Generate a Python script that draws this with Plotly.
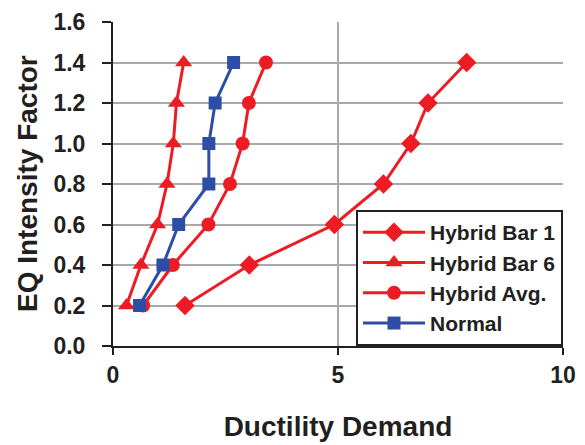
import plotly.graph_objects as go

intensity = [0.2, 0.4, 0.6, 0.8, 1.0, 1.2, 1.4]
hybrid_bar1 = [1.60, 3.03, 4.92, 6.01, 6.62, 7.00, 7.86]
hybrid_bar6 = [0.30, 0.62, 0.99, 1.20, 1.34, 1.41, 1.57]
hybrid_avg = [0.67, 1.33, 2.12, 2.60, 2.88, 3.02, 3.40]
normal = [0.59, 1.11, 1.46, 2.13, 2.13, 2.27, 2.68]

x_ticks = [0, 5, 10]
y_ticks = [0.0, 0.2, 0.4, 0.6, 0.8, 1.0, 1.2, 1.4, 1.6]

RED = "#ED1C24"
BLUE = "#2E4DA7"
INK = "#231F20"
FONT = "Liberation Sans"

series = [
    ("Hybrid Bar 1", hybrid_bar1, RED, "diamond", 15),
    ("Hybrid Bar 6", hybrid_bar6, RED, "triangle-up", 15),
    ("Hybrid Avg.", hybrid_avg, RED, "circle", 14),
    ("Normal", normal, BLUE, "square", 13),
]

fig = go.Figure()
for name, xs, color, sym, size in series:
    fig.add_trace(go.Scatter(
        x=xs, y=intensity, name=name, mode="lines+markers",
        line=dict(color=color, width=3),
        marker=dict(symbol=sym, size=size, color=color),
    ))

fig.add_annotation(
    text="EQ Intensity Factor", textangle=-90,
    xref="paper", yref="paper", x=0, y=0.5, xshift=-86,
    xanchor="center", yanchor="middle", showarrow=False,
    font=dict(size=28, family=FONT, color=INK, weight="bold"),
)

fig.update_layout(
    width=585, height=445,
    margin=dict(l=113, r=22, t=22, b=99),
    paper_bgcolor="white", plot_bgcolor="white",
    font=dict(family=FONT, color=INK, size=23, weight="bold"),
    showlegend=True,
    legend=dict(
        x=1, y=0, xanchor="right", yanchor="bottom",
        bgcolor="white", bordercolor=INK, borderwidth=2,
        font=dict(family=FONT, size=21, color=INK, weight="bold"),
        tracegroupgap=0, itemwidth=62,
    ),
    xaxis=dict(
        range=[0, 10], tickvals=x_ticks, ticktext=[str(v) for v in x_ticks],
        showgrid=True, gridcolor="#A7A9AC", gridwidth=2,
        showline=True, linecolor=INK, linewidth=2,
        ticks="outside", ticklen=7, tickwidth=2, tickcolor=INK,
        zeroline=False, automargin=False,
        title=dict(text="Ductility Demand", font=dict(size=28, family=FONT, weight="bold"), standoff=30),
        tickfont=dict(size=23),
    ),
    yaxis=dict(
        range=[0, 1.6], tickvals=y_ticks, ticktext=[f"{v:.1f}" for v in y_ticks],
        showgrid=True, gridcolor="#A7A9AC", gridwidth=2,
        showline=True, linecolor=INK, linewidth=2,
        ticks="outside", ticklen=9, tickwidth=2, tickcolor=INK,
        zeroline=False, automargin=False,
        ticklabelstandoff=12,
        tickfont=dict(size=23),
    ),
)

fig.write_html("out.html")
